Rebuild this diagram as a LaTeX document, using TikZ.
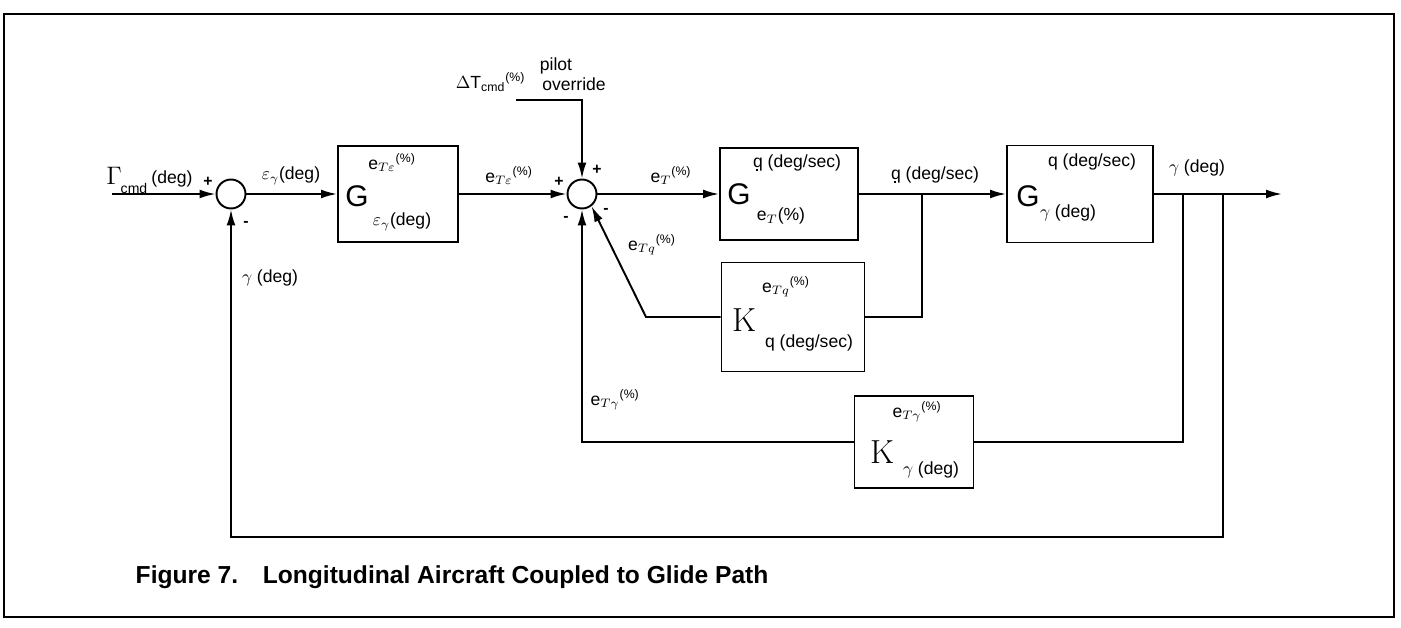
\documentclass[tikz,border=0pt]{standalone}
\usepackage{fontspec}
\setmainfont{Liberation Sans}
\newfontfamily\lmfont{Latin Modern Roman}
\newcommand{\qdot}{q\llap{\raisebox{-0.4ex}{\rule{0.13em}{0.13em}}\kern0.27em}}
\usetikzlibrary{arrows.meta}

\begin{document}
\begin{tikzpicture}[x=0.02cm, y=-0.02cm, >={Latex[length=9pt,width=5pt]}, line width=1.1pt,
		every node/.style={font=\fontsize{10}{12}\selectfont, inner sep=1pt},
		blk/.style={draw, rectangle, inner sep=0pt},
		sumc/.style={draw, circle, minimum size=0.58cm, inner sep=0pt},
		big/.style={font=\fontsize{17}{19}\selectfont},
		bigrm/.style={font=\lmfont\fontsize{19}{21}\selectfont},
		sgn/.style={font=\fontsize{9}{10}\selectfont\bfseries}]
	
	\useasboundingbox (0,0) rectangle (1401,628);
	% 外框
	\draw[line width=1.3pt] (4,14) rectangle (1394,617);
	
	% ================= 前向通道 =================
	\coordinate (in) at (112,194);
	\node[sumc] (s1) at (231,194) {};
	\node[blk, minimum width=2.4cm, minimum height=1.92cm] (G1) at (398,194) {};
	\node[sumc] (s2) at (582,194) {};
	\node[blk, minimum width=2.76cm, minimum height=1.84cm] (G2) at (789,194) {};
	\node[blk, minimum width=2.92cm, minimum height=1.94cm] (G3) at (1080,194) {};
	\coordinate (out) at (1282,194);
	
	\draw[->] (in) -- (s1);
	\draw[->] (s1) -- (G1);
	\draw[->] (G1) -- (s2);
	\draw[->] (s2) -- (G2);
	\draw[->] (G2) -- (G3);
	\draw[->] (G3) -- (out);
	
	% 驾驶员超控输入
	\coordinate (po) at (516,100);
	\draw[->] (po) -| (s2.north);
	
	% ================= 反馈通道 =================
	\coordinate (tq) at (922,194);
	\coordinate (tg1) at (1183,194);
	\coordinate (tg2) at (1223,194);
	\coordinate (kc) at (646,317);
	\coordinate (bot) at (1223,537);
	
	\node[blk, minimum width=2.86cm, minimum height=2.18cm] (Kq) at (793,317) {};
	\node[blk, minimum width=2.38cm, minimum height=1.84cm] (Kg) at (914,442) {};
	
	\draw (Kq.east) -| (tq);
	\draw[->] (Kq.west) -- (kc) -- (s2.-52);
	\draw (Kg.east) -| (tg1);
	\draw[->] (Kg.west) -| (s2.south);
	\draw[->] (tg2) -- (bot) -| (s1.south);
	
	% ================= 标注 =================
	\node[font=\fontsize{15}{17}\selectfont] (lGam) at (114,176) {$\Gamma$};
	\node (lGdeg) at (172,179) {(deg)};
	\node[font=\fontsize{8}{9}\selectfont] (lcmd) at (134,188) {cmd};
	\node[sgn] (p1) at (208,182) {+};
	\node[sgn] (m1) at (246,224) {-};
	\node (leps) at (291,176) {$\varepsilon_{\gamma}$(deg)};
	\node (lgf) at (270,278) {$\gamma$ (deg)};
	
	\node (g1n) at (392,163) {e$_{T\varepsilon}$\textsuperscript{(\%)}};
	\node[big] (g1G) at (357,196) {G};
	\node (g1d) at (402,222) {$\varepsilon_{\gamma}$(deg)};
	
	\node (leTe) at (509,176) {e$_{T\varepsilon}$\textsuperscript{(\%)}};
	\node[anchor=east] (ldT) at (528,82) {$\Delta$T$_{\mathrm{cmd}}$\textsuperscript{(\%)}};
	\node (lpil) at (556,66) {pilot};
	\node (lovr) at (574,84) {override};
	\node[sgn] (p2) at (559,182) {+};
	\node[sgn] (p3) at (597,170) {+};
	\node[sgn] (m2) at (566,219) {-};
	\node[sgn] (m3) at (606,211) {-};
	
	\node (leT) at (671,176) {e$_T$\textsuperscript{(\%)}};
	\node (g2n) at (797,163) {\qdot{} (deg/sec)};
	\node[big] (g2G) at (739,194) {G};
	\node (g2d) at (781,216) {e$_T$(\%)};
	\node (lq) at (935,175) {\qdot{} (deg/sec)};
	
	\node (g3n) at (1092,162) {q (deg/sec)};
	\node[big] (g3G) at (1028,196) {G};
	\node (g3d) at (1068,213) {$\gamma$ (deg)};
	\node (lgo) at (1197,168) {$\gamma$ (deg)};
	
	\node (leTq) at (652,245) {e$_{Tq}$\textsuperscript{(\%)}};
	\node (kqn) at (786,287) {e$_{Tq}$\textsuperscript{(\%)}};
	\node[bigrm] (kqK) at (744,320) {K};
	\node (kqd) at (809,343) {q (deg/sec)};
	
	\node[anchor=west] (leTg) at (588,400) {e$_{T\gamma}$\textsuperscript{(\%)}};
	\node (kgn) at (917,412) {e$_{T\gamma}$\textsuperscript{(\%)}};
	\node[bigrm] (kgK) at (882,452) {K};
	\node (kgd) at (931,470) {$\gamma$ (deg)};
	
	\node[anchor=west, font=\bfseries\fontsize{14}{16}\selectfont] (cap) at (133,577) {Figure 7.\quad Longitudinal Aircraft Coupled to Glide Path};
	
\end{tikzpicture}
\end{document}
